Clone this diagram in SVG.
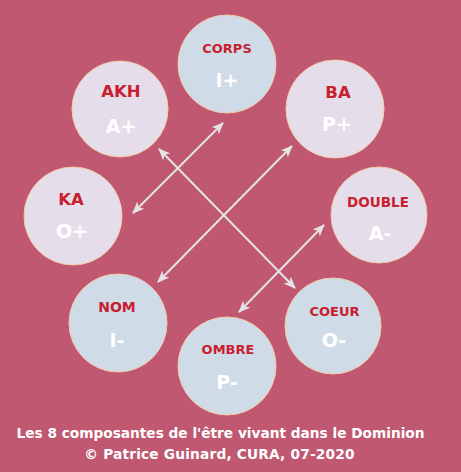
<svg xmlns="http://www.w3.org/2000/svg" width="461" height="472" viewBox="0 0 461 472">
<defs>
<style>
.lav{fill:#E6DDEB;stroke:#F2CBA8;stroke-width:1}
.blu{fill:#CFDCE8;stroke:#F2CBA8;stroke-width:1}
.nm{font-family:"DejaVu Sans",Verdana,sans-serif;font-weight:bold;fill:#C8202F;text-anchor:middle}
.cd{font-family:"DejaVu Sans",Verdana,sans-serif;font-weight:bold;fill:#FFFFFF;text-anchor:middle;font-size:19px}
.ft{font-family:"DejaVu Sans",Verdana,sans-serif;font-weight:bold;fill:#FFFFFF;text-anchor:middle;font-size:13.7px}
.ar{stroke:#E4E4E4;stroke-width:2;fill:none;marker-start:url(#ah);marker-end:url(#ah)}
</style>
<marker id="ah" viewBox="0 0 12 10" refX="11" refY="5" markerWidth="12" markerHeight="10" markerUnits="userSpaceOnUse" orient="auto-start-reverse">
<path d="M0,0 L12,5 L0,10 L3,5 Z" fill="#E4E4E4"/>
</marker>
</defs>
<rect width="461" height="472" fill="#C05872"/>
<g id="corps"><circle class="blu" cx="227" cy="64" r="49"/><text class="nm" x="227" y="53" font-size="13">CORPS</text><text class="cd" x="227" y="87">I+</text></g>
<g id="akh"><circle class="lav" cx="120" cy="109" r="48"/><text class="nm" x="121" y="97" font-size="16.5">AKH</text><text class="cd" x="121" y="133">A+</text></g>
<g id="ba"><circle class="lav" cx="335" cy="109" r="49"/><text class="nm" x="338" y="98" font-size="16.5">BA</text><text class="cd" x="337" y="131">P+</text></g>
<g id="ka"><circle class="lav" cx="73" cy="216" r="49"/><text class="nm" x="71" y="205" font-size="16.5">KA</text><text class="cd" x="72" y="238">O+</text></g>
<g id="double"><circle class="lav" cx="379" cy="215" r="48"/><text class="nm" x="378" y="207" font-size="13.5">DOUBLE</text><text class="cd" x="380" y="240">A-</text></g>
<g id="nom"><circle class="blu" cx="118" cy="323" r="49"/><text class="nm" x="117" y="312" font-size="14">NOM</text><text class="cd" x="117" y="347">I-</text></g>
<g id="ombre"><circle class="blu" cx="227" cy="366" r="49"/><text class="nm" x="228" y="354" font-size="13">OMBRE</text><text class="cd" x="227" y="389">P-</text></g>
<g id="coeur"><circle class="blu" cx="333" cy="326" r="48"/><text class="nm" x="334.5" y="316" font-size="13">COEUR</text><text class="cd" x="334" y="347">O-</text></g>
<g id="connectors">
<line class="ar" x1="133" y1="213" x2="223" y2="123"/>
<line class="ar" x1="159" y1="149" x2="295" y2="288"/>
<line class="ar" x1="158" y1="282" x2="292" y2="146"/>
<line class="ar" x1="239" y1="312" x2="324" y2="225"/>
</g>
<text class="ft" x="220.5" y="438">Les 8 composantes de l'être vivant dans le Dominion</text>
<text class="ft" x="219.5" y="459" letter-spacing="0.2">© Patrice Guinard, CURA, 07-2020</text>
</svg>
